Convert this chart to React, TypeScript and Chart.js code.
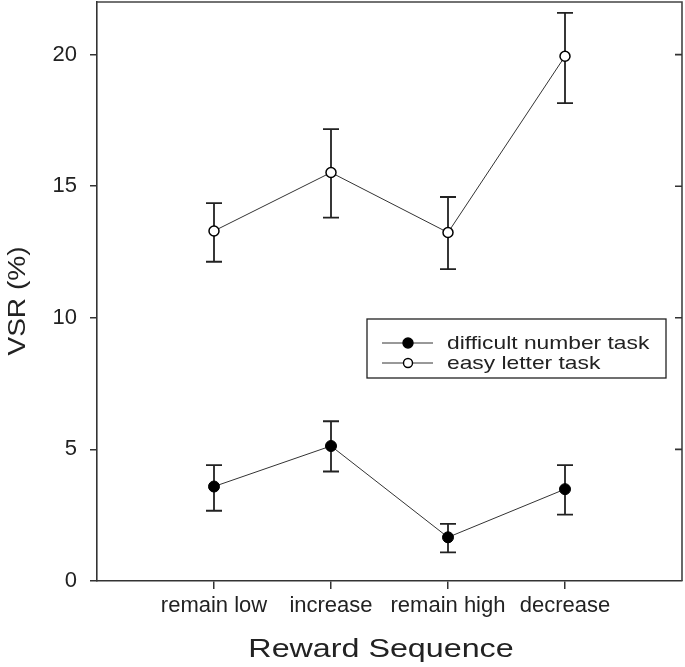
import React, { useEffect, useRef } from "react";
import { Chart, registerables } from "chart.js";

Chart.register(...registerables);

const categories = ["remain low", "increase", "remain high", "decrease"];
const xPositions = [1, 2, 3, 4];
const seriesNames = ["difficult number task", "easy letter task"];
const difficultMean = [3.59, 5.13, 1.66, 3.49];
const difficultLow = [2.67, 4.16, 1.09, 2.52];
const difficultHigh = [4.4, 6.07, 2.17, 4.4];
const easyMean = [13.3, 15.52, 13.24, 19.94];
const easyLow = [12.13, 13.81, 11.85, 18.16];
const easyHigh = [14.36, 17.17, 14.59, 21.59];
const yTicks = [0, 5, 10, 15, 20];
const yMax = 22;
const xMin = 0;
const xMax = 5;
const xTitle = "Reward Sequence";
const yTitle = "VSR (%)";

const FONT = "'Liberation Sans', Arial, sans-serif";
const INK = "#222";
const AXIS = "#333";

const lows = [difficultLow, easyLow];
const highs = [difficultHigh, easyHigh];

function drawStretched(
  ctx: CanvasRenderingContext2D,
  text: string,
  x: number,
  y: number,
  size: number,
  sx: number,
  align: CanvasTextAlign,
  rotate: boolean
) {
  ctx.save();
  ctx.translate(x, y);
  if (rotate) ctx.rotate(-Math.PI / 2);
  ctx.scale(sx, 1);
  ctx.font = `${size}px ${FONT}`;
  ctx.fillStyle = INK;
  ctx.textAlign = align;
  ctx.textBaseline = "alphabetic";
  ctx.fillText(text, 0, 0);
  ctx.restore();
}

const errorBarPlugin = {
  id: "errorBars",
  beforeDatasetsDraw(chart: any) {
    const ctx = chart.ctx as CanvasRenderingContext2D;
    const xs = chart.scales.x;
    const ys = chart.scales.y;
    ctx.save();
    ctx.strokeStyle = INK;
    ctx.lineWidth = 1.8;
    lows.forEach((lo, di) => {
      const hi = highs[di];
      xPositions.forEach((xv, j) => {
        const px = xs.getPixelForValue(xv);
        const pl = ys.getPixelForValue(lo[j]);
        const ph = ys.getPixelForValue(hi[j]);
        ctx.beginPath();
        ctx.moveTo(px, pl);
        ctx.lineTo(px, ph);
        ctx.moveTo(px - 8, pl);
        ctx.lineTo(px + 8, pl);
        ctx.moveTo(px - 8, ph);
        ctx.lineTo(px + 8, ph);
        ctx.stroke();
      });
    });
    ctx.restore();
  },
};

const framePlugin = {
  id: "frame",
  afterDraw(chart: any) {
    const ctx = chart.ctx as CanvasRenderingContext2D;
    const a = chart.chartArea;
    const ys = chart.scales.y;
    ctx.save();
    ctx.strokeStyle = "#444";
    ctx.lineWidth = 1.6;
    ctx.beginPath();
    ctx.moveTo(a.left, a.top);
    ctx.lineTo(a.right, a.top);
    ctx.lineTo(a.right, a.bottom);
    ctx.stroke();
    ctx.strokeStyle = AXIS;
    ctx.beginPath();
    yTicks.forEach((v) => {
      if (v === 0) return;
      const py = ys.getPixelForValue(v);
      ctx.moveTo(a.right - 7, py);
      ctx.lineTo(a.right, py);
    });
    ctx.stroke();
    ctx.restore();

    // axis titles
    drawStretched(ctx, xTitle, 381, 657, 26, 1.24, "center", false);
    drawStretched(ctx, yTitle, 25, 301, 23, 1.22, "center", true);

    // legend
    const box = { left: 367, top: 319, right: 666, bottom: 378 };
    ctx.save();
    ctx.strokeStyle = INK;
    ctx.lineWidth = 1.3;
    ctx.strokeRect(box.left, box.top, box.right - box.left, box.bottom - box.top);
    const rows = [343, 363];
    const baselines = [349, 369];
    seriesNames.forEach((name, i) => {
      const y = rows[i];
      ctx.strokeStyle = AXIS;
      ctx.lineWidth = 1;
      ctx.beginPath();
      ctx.moveTo(382, y);
      ctx.lineTo(433, y);
      ctx.stroke();
      ctx.beginPath();
      ctx.arc(408, y, i === 0 ? 5 : 4.5, 0, Math.PI * 2);
      ctx.fillStyle = i === 0 ? "#000" : "#fff";
      ctx.fill();
      ctx.strokeStyle = "#000";
      ctx.lineWidth = 1.4;
      ctx.stroke();
      drawStretched(ctx, name, 447, baselines[i], 19, 1.2, "left", false);
    });
    ctx.restore();
  },
};

export default function App() {
  const ref = useRef<HTMLCanvasElement | null>(null);

  useEffect(() => {
    document.body.style.margin = "0";
    const canvas = ref.current;
    if (!canvas) return;
    const mk = (vals: number[]) => xPositions.map((x, i) => ({ x, y: vals[i] }));
    const chart = new Chart(canvas, {
      type: "line",
      data: {
        datasets: [
          {
            label: seriesNames[0],
            data: mk(difficultMean),
            borderColor: AXIS,
            borderWidth: 1,
            pointRadius: 5.5,
            pointBackgroundColor: "#000",
            pointBorderColor: "#000",
            pointBorderWidth: 1,
            tension: 0,
          },
          {
            label: seriesNames[1],
            data: mk(easyMean),
            borderColor: AXIS,
            borderWidth: 1,
            pointRadius: 5,
            pointBackgroundColor: "#fff",
            pointBorderColor: "#000",
            pointBorderWidth: 1.5,
            tension: 0,
          },
        ],
      },
      options: {
        responsive: false,
        animation: false,
        layout: { autoPadding: false, padding: { top: 2, right: 3, left: 0, bottom: 0 } },
        plugins: {
          legend: { display: false },
          tooltip: { enabled: false },
          title: { display: false },
        },
        scales: {
          x: {
            type: "linear",
            min: xMin,
            max: xMax,
            position: "bottom",
            afterBuildTicks: (scale: any) => {
              scale.ticks = xPositions.map((v) => ({ value: v }));
            },
            afterFit: (scale: any) => {
              scale.height = 86;
              scale.paddingLeft = 0;
              scale.paddingRight = 0;
            },
            ticks: {
              autoSkip: false,
              maxRotation: 0,
              padding: 4,
              color: INK,
              font: { family: FONT, size: 22 },
              callback: (v: any) => categories[xPositions.indexOf(Number(v))] ?? "",
            },
            grid: {
              drawOnChartArea: false,
              drawTicks: true,
              tickLength: 8,
              color: AXIS,
              lineWidth: 1.5,
            },
            border: { display: true, color: AXIS, width: 1.6 },
          },
          y: {
            type: "linear",
            min: 0,
            max: yMax,
            position: "left",
            afterBuildTicks: (scale: any) => {
              scale.ticks = yTicks.map((v) => ({ value: v }));
            },
            afterFit: (scale: any) => {
              scale.width = 97;
              scale.paddingTop = 0;
              scale.paddingBottom = 0;
            },
            ticks: {
              padding: 13,
              color: INK,
              font: { family: FONT, size: 22 },
              callback: (v: any) => String(v),
            },
            grid: {
              drawOnChartArea: false,
              drawTicks: true,
              tickLength: 7,
              color: AXIS,
              lineWidth: 1.5,
            },
            border: { display: true, color: AXIS, width: 1.6 },
          },
        },
      },
      plugins: [errorBarPlugin, framePlugin],
    } as any);
    return () => chart.destroy();
  }, []);

  return (
    <div style={{ width: 685, height: 667 }}>
      <canvas ref={ref} width={685} height={667} style={{ display: "block" }} />
    </div>
  );
}
